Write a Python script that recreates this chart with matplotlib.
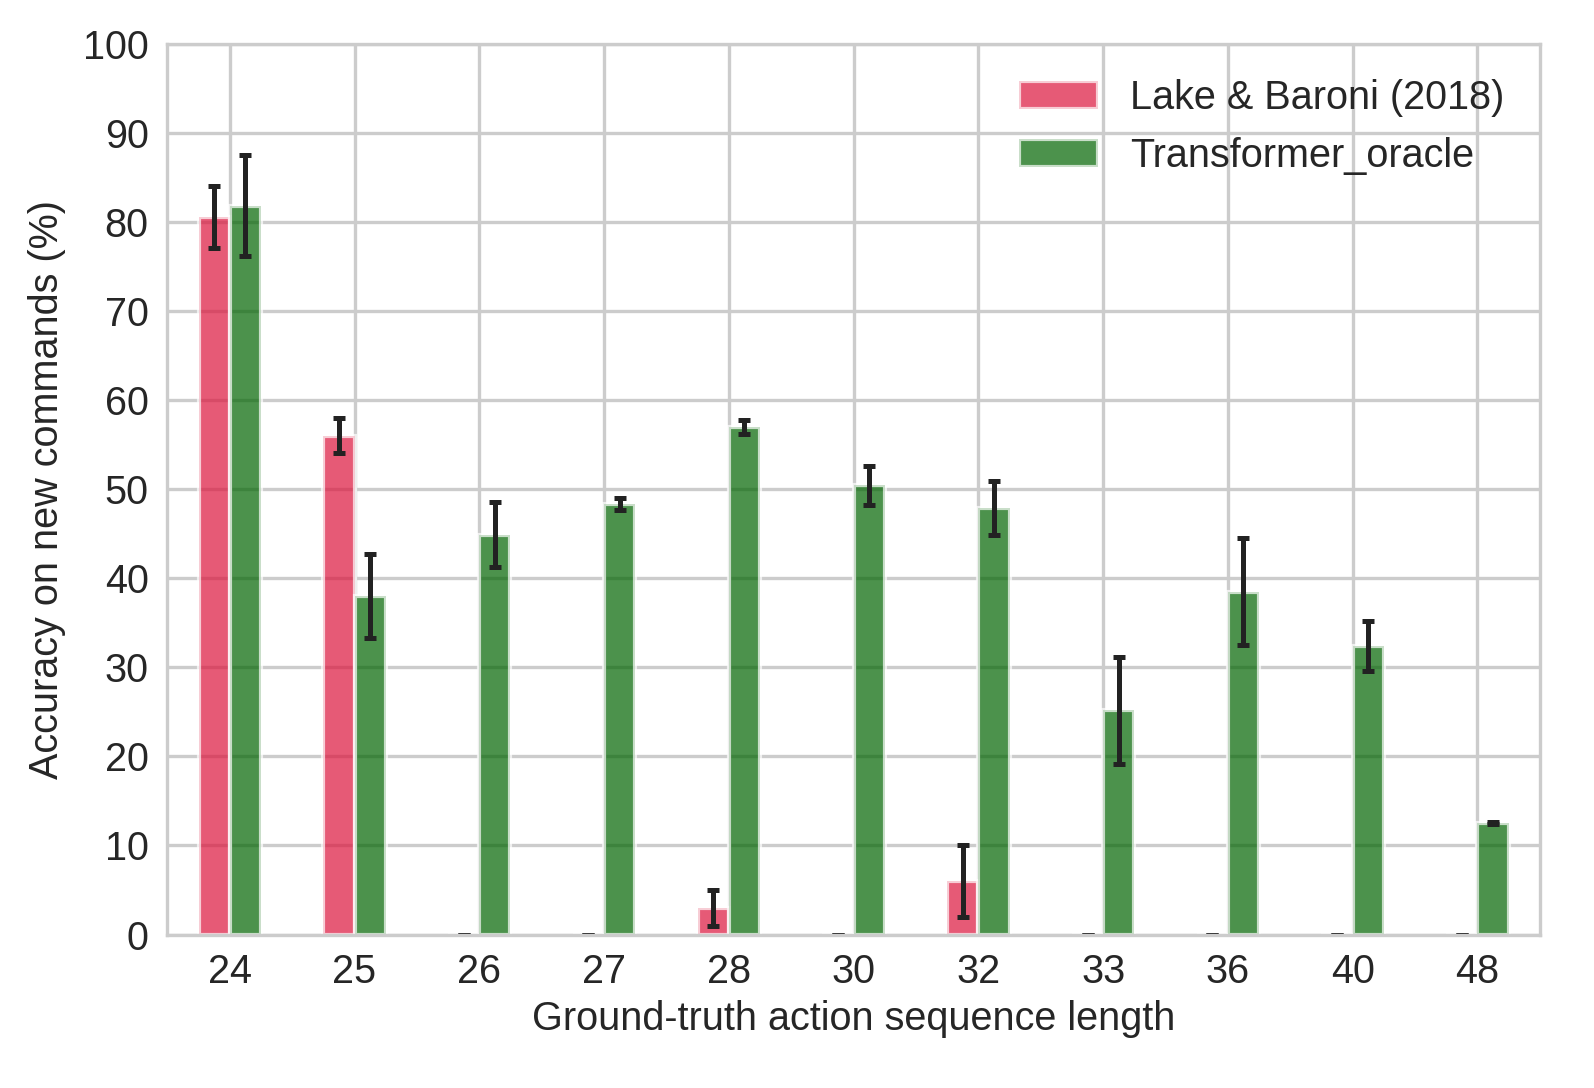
import matplotlib
matplotlib.use("Agg")
import matplotlib.pyplot as plt
import seaborn as sns
import numpy as np

sns.set_style("whitegrid")
plt.rcParams['font.family'] = ['Arial', 'Liberation Sans', 'DejaVu Sans']

lengths = ["24", "25", "26", "27", "28", "30", "32", "33", "36", "40", "48"]
lake_mean = [80.5, 56.0, 0, 0, 3.0, 0, 6.0, 0, 0, 0, 0]
lake_err = [3.5, 2.0, 0, 0, 2.0, 0, 4.0, 0, 0, 0, 0]
trans_mean = [81.8, 38.0, 44.9, 48.3, 57.0, 50.4, 47.9, 25.2, 38.5, 32.4, 12.5]
trans_err = [5.7, 4.7, 3.6, 0.7, 0.8, 2.2, 3.0, 6.0, 6.0, 2.8, 0.1]

fig = plt.figure(figsize=(1594 / 300, 1088 / 300), dpi=300)
ax = fig.add_axes([0.105, 0.141, 0.861, 0.819])

x = np.arange(len(lengths))
w = 0.25
ekw = dict(elinewidth=1.2, capthick=1.2)
ax.bar(x - w / 2, lake_mean, w, yerr=lake_err, capsize=1.5, color="crimson", alpha=0.7,
       ecolor="#222222", error_kw=ekw, label="Lake & Baroni (2018)")
ax.bar(x + w / 2, trans_mean, w, yerr=trans_err, capsize=1.5, color="darkgreen", alpha=0.7,
       ecolor="#222222", error_kw=ekw, label="Transformer_oracle")

ax.set_xticks(x)
ax.set_xticklabels(lengths)
ax.set_yticks(range(0, 101, 10))
ax.set_ylim(0, 100)
ax.set_xlim(-0.5, len(lengths) - 0.5)
ax.tick_params(labelsize=9.5, pad=1)
ax.set_xlabel("Ground-truth action sequence length", fontsize=9.5, labelpad=2)
ax.set_ylabel("Accuracy on new commands (%)", fontsize=9.5)
for s in ax.spines.values():
    s.set_color("#cccccc")
ax.legend(loc="upper right", fontsize=9.5, frameon=False)

fig.savefig("out.png", dpi=300)
